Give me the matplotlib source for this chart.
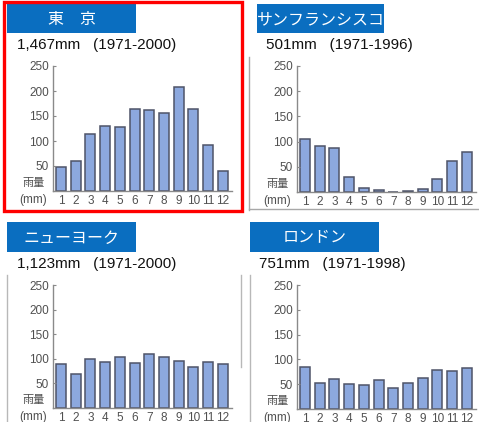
import matplotlib
matplotlib.use("Agg")
import matplotlib.pyplot as plt
from matplotlib.patches import Rectangle
from matplotlib.lines import Line2D

plt.rcParams['font.family'] = ['Liberation Sans', 'Noto Sans CJK JP', 'DejaVu Sans']

# 月別降水量 (mm)
months = [1, 2, 3, 4, 5, 6, 7, 8, 9, 10, 11, 12]
tokyo = [48.6, 60.2, 114.5, 130.3, 128.0, 164.9, 161.5, 155.1, 208.5, 163.1, 92.5, 39.6]
san_francisco = [106, 91, 88, 29, 8, 3, 0.5, 1, 5, 26, 62, 80]
new_york = [90, 70, 100, 94, 104, 91, 110, 104, 96, 84, 93, 90]
london = [84, 52, 60, 50, 49, 59, 42, 53, 63, 79, 76, 83]

cities = ["東\u3000京", "サンフランシスコ", "ニューヨーク", "ロンドン"]
totals = ["1,467mm", "501mm", "1,123mm", "751mm"]
periods = ["(1971-2000)", "(1971-1996)", "(1971-2000)", "(1971-1998)"]
yticks = [50, 100, 150, 200, 250]

W, H = 479, 422
fig = plt.figure(figsize=(W / 100, H / 100), dpi=100)
fig.patch.set_facecolor("white")

BLUE = "#0A6EC0"
BAR = "#8CA8DE"
EDGE = "#4E5468"
AXIS = "#8A8A8A"
TXT = "#505050"


def fx(x):
    return x / W


def fy(y):
    return 1 - y / H


def rect(x0, y0, x1, y1, **kw):
    fig.add_artist(Rectangle((fx(x0), fy(y1)), fx(x1) - fx(x0), fy(y0) - fy(y1),
                             transform=fig.transFigure, **kw))


def line(x0, y0, x1, y1, **kw):
    fig.add_artist(Line2D([fx(x0), fx(x1)], [fy(y0), fy(y1)],
                          transform=fig.transFigure, **kw))


# パネル配置: 見出し枠, 小見出し位置, 軸 (左, 250の位置, 0の位置)
boxes = [(7, 4, 136, 33), (257, 4, 384, 33), (7, 222, 136, 252), (250, 222, 379, 252)]
subs = [(17, 45), (266, 45), (17, 264), (259, 264)]
axes_pos = [(53, 66, 191), (297, 66, 192), (53, 285, 408), (297, 285, 409)]
values = [tokyo, san_francisco, new_york, london]

for i in range(4):
    bx0, by0, bx1, by1 = boxes[i]
    rect(bx0, by0, bx1, by1, facecolor=BLUE, edgecolor="none")
    fig.text(fx((bx0 + bx1) / 2), fy((by0 + by1) / 2 + 1), cities[i],
             color="white", fontsize=11.5, ha="center", va="center",
             family=['Noto Sans CJK JP', 'DejaVu Sans'])
    sx, sy = subs[i]
    fig.text(fx(sx), fy(sy), f"{totals[i]}   {periods[i]}", fontsize=11,
             ha="left", va="center", color="#111111")

    x0, ytop, ybot = axes_pos[i]
    aw = 179
    ax = fig.add_axes([fx(x0), fy(ybot), aw / W, (ybot - ytop) / H])
    ax.bar(months, values[i], width=0.68, color=BAR, edgecolor=EDGE, linewidth=1.1)
    ax.set_xlim(0.46, 12.62)
    ax.set_ylim(0, 250)
    ax.set_yticks(yticks)
    ax.set_xticks(months)
    ax.patch.set_alpha(0)
    for s in ["top", "right"]:
        ax.spines[s].set_visible(False)
    for s in ["left", "bottom"]:
        ax.spines[s].set_color(AXIS)
        ax.spines[s].set_linewidth(1.0)
    ax.tick_params(axis="y", direction="in", length=2, color=AXIS, pad=3,
                   labelsize=8.5, labelcolor=TXT)
    ax.tick_params(axis="x", length=0, pad=3, labelsize=8.5, labelcolor=TXT)

    fig.text(fx(x0 - 19), fy(ybot - 8), "雨量", fontsize=8, color=TXT,
             ha="center", va="center", family=['Noto Sans CJK JP', 'DejaVu Sans'])
    fig.text(fx(x0 - 20), fy(ybot + 9), "(mm)", fontsize=8.5, color=TXT,
             ha="center", va="center")

# 区切り線
line(249, 57, 249, 210, color="#A8A8A8", linewidth=1.0)
line(249, 209, 479, 209, color="#A8A8A8", linewidth=1.0)
line(7, 275, 7, 422, color="#B8B8B8", linewidth=1.0)
line(241, 275, 241, 367, color="#B8B8B8", linewidth=1.0)
line(250, 275, 250, 422, color="#B8B8B8", linewidth=1.0)

# 東京の赤枠
rect(4, 2, 242, 211, facecolor="none", edgecolor="#FF0000", linewidth=2.4)

fig.savefig("out.png", dpi=100)
